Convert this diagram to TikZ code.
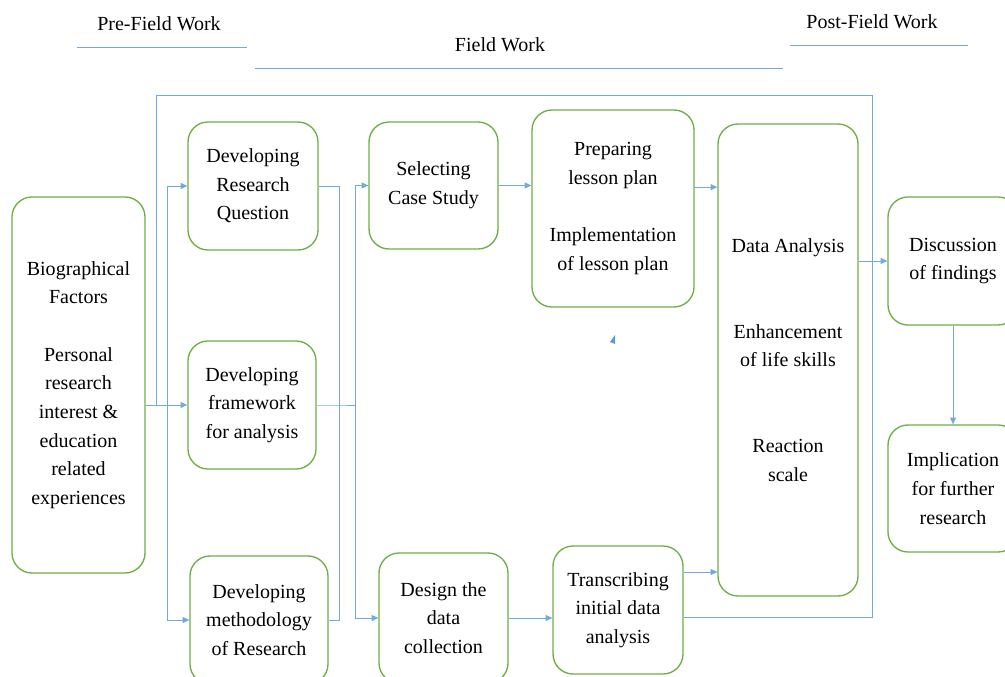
\documentclass[tikz,border=0pt]{standalone}
\usepackage{fontspec}
\setmainfont{Liberation Serif}
\usetikzlibrary{arrows.meta}
\definecolor{cblue}{RGB}{91,155,213}
\definecolor{cgreen}{RGB}{112,173,71}
\tikzset{flowfig/.style={x=0.75pt,y=-0.75pt,font=\fontsize{15}{21.5}\selectfont,
    >={Triangle[length=5pt,width=4.5pt]}},
  stage/.style={draw=cgreen,line width=1pt,rounded corners=15pt,align=center,inner sep=0pt},
  link/.style={cblue!85,line width=0.6pt},
  phase/.style={font=\fontsize{15}{17}\selectfont}}

\begin{document}
\begin{tikzpicture}[flowfig]
    \useasboundingbox (0,0) rectangle (1005,677);
    \clip (0,0) rectangle (1005,677);
    % phases
    \node[phase] (pre) at (159,24) {Pre-Field Work};
    \node[phase] (field) at (500,45) {Field Work};
    \node[phase] (post) at (872,22) {Post-Field Work};
    \draw[link] (77,47) -- (247,47);
    \draw[link] (255,68) -- (783,68);
    \draw[link] (790,45) -- (968,45);
    % boxes
    \node[stage,minimum width=99.75pt,minimum height=282pt] (bio) at (78.5,385)
      {Biographical\\Factors\\[21.5pt]Personal\\research\\interest \&\\education\\related\\experiences};
    \node[stage,minimum width=97.5pt,minimum height=96pt] (drq) at (253,186) {Developing\\Research\\Question};
    \node[stage,minimum width=96pt,minimum height=96pt] (dfa) at (252,405) {Developing\\framework\\for analysis};
    \node[stage,minimum width=103.5pt,minimum height=96pt] (dmr) at (259,620) {Developing\\methodology\\of Research};
    \node[stage,minimum width=96.75pt,minimum height=95.25pt] (sel) at (433.5,185.5) {Selecting\\Case Study};
    \node[stage,minimum width=96.75pt,minimum height=97.5pt] (dcol) at (443.5,618) {Design the\\data\\collection};
    \node[stage,minimum width=121.5pt,minimum height=147.75pt] (prep) at (613,208.5)
      {Preparing\\lesson plan\\[21.5pt]Implementation\\of lesson plan};
    \node[stage,minimum width=97.5pt,minimum height=96pt] (trans) at (618,610) {Transcribing\\initial data\\analysis};
    \node[stage,minimum width=105pt,minimum height=354pt] (data) at (788,360)
      {Data Analysis\\[43pt]Enhancement\\of life skills\\[43pt]Reaction\\scale};
    \node[stage,minimum width=97.5pt,minimum height=96pt] (disc) at (953,261) {Discussion\\of findings};
    \node[stage,minimum width=97.5pt,minimum height=95.25pt] (impl) at (953,488.5) {Implication\\for further\\research};
    % connectors
    \coordinate (sp) at (167,405);
    \coordinate (mg) at (339,405);
    \coordinate (sq) at (355,405);
    \coordinate (lp) at (156,405);
    \coordinate (lc) at (872,95);
    \draw[link] ([yshift=-15pt]bio.east) -- (sp);
    \draw[link,->] (sp) |- (drq.west);
    \draw[link,->] (sp) -- (dfa.west);
    \draw[link,->] (sp) |- (dmr.west);
    \draw[link] (drq.east) -| (mg);
    \draw[link] (dmr.east) -| (mg);
    \draw[link] (dfa.east) -- (mg) -- (sq);
    \draw[link,->] (sq) |- (sel.west);
    \draw[link,->] (sq) |- (dcol.west);
    \draw[link,->] (sel.east) -- (sel.east -| prep.west);
    \draw[link,->] ([yshift=16pt]prep.east) coordinate (p1) -- (p1 -| data.west);
    \draw[link,->] (dcol.east) -- (dcol.east -| trans.west);
    \draw[link,->] ([yshift=28.5pt]trans.east) coordinate (t1) -- (t1 -| data.west);
    \draw[link,->] (disc.west -| data.east) -- (disc.west);
    \draw[link,->] (disc.south) -- (impl.north);
    \draw[link] (lp) |- (lc) |- ([yshift=-5.25pt]trans.east);
    \fill[cblue] (615,335) -- (610,342) -- (615,344) -- cycle;
\end{tikzpicture}
\end{document}
